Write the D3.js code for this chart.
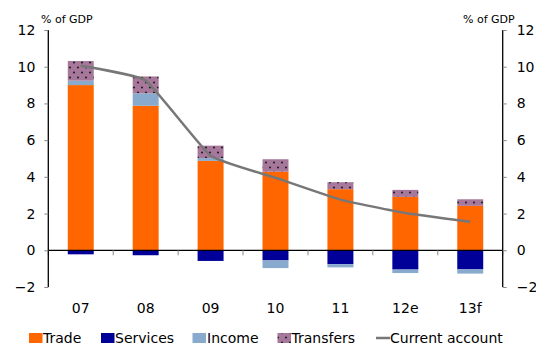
<!DOCTYPE html>
<html><head><meta charset="utf-8">
<script src="https://cdn.jsdelivr.net/npm/d3@7"></script>
<style>body{margin:0;background:#fff}svg{display:block;font-family:Verdana,"DejaVu Sans",sans-serif}</style>
</head><body><svg id="c" width="536" height="345"></svg>
<script>
const categories = ["07","08","09","10","11","12e","13f"];
const trade = [9.0, 7.87, 4.87, 4.28, 3.33, 2.91, 2.42];
const services = [-0.22, -0.27, -0.58, -0.55, -0.76, -1.05, -1.04];
const income = [0.24, 0.68, 0.15, -0.42, -0.17, -0.19, -0.23];
const transfers = [1.07, 0.92, 0.68, 0.68, 0.38, 0.38, 0.36];
const currentAccount = [10.05, 9.25, 5.15, 3.95, 2.76, 2.03, 1.55];
const yTicks = [-2, 0, 2, 4, 6, 8, 10, 12];

const keys = ["trade","services","income","transfers"];
const colors = {trade:"#ff6600", services:"#000099", income:"#88aacc", transfers:"url(#dots)"};
const labels = {trade:"Trade", services:"Services", income:"Income", transfers:"Transfers"};
const rows = categories.map((c,i)=>({cat:c, trade:trade[i], services:services[i], income:income[i], transfers:transfers[i]}));

const svg = d3.select("#c");
const L = 48.3, R = 502.7;
const x = d3.scaleBand().domain(categories).range([L, R]).paddingInner(0).paddingOuter(0);
const y = d3.scaleLinear().domain([-2, 12]).range([287, 30]);

const defs = svg.append("defs");
const pat = defs.append("pattern").attr("id","dots").attr("patternUnits","userSpaceOnUse")
  .attr("width",8).attr("height",10);
pat.append("rect").attr("width",8).attr("height",10).attr("fill","#a8789c");
pat.append("circle").attr("cx",2).attr("cy",2.5).attr("r",1.1).attr("fill","#222");
pat.append("circle").attr("cx",6).attr("cy",7.5).attr("r",1.1).attr("fill","#222");

const stack = d3.stack().keys(keys).offset(d3.stackOffsetDiverging)(rows);
const bw = x.bandwidth()*0.4;
svg.append("g").selectAll("g").data(stack).join("g")
  .attr("fill", d=>colors[d.key])
  .selectAll("rect").data(d=>d).join("rect")
  .attr("x", d=>x(d.data.cat) + (x.bandwidth()-bw)/2)
  .attr("width", bw)
  .attr("y", d=>y(Math.max(d[0],d[1])))
  .attr("height", d=>Math.abs(y(d[0])-y(d[1])));

// zero line
svg.append("line").attr("x1",L).attr("x2",R).attr("y1",y(0)).attr("y2",y(0)).attr("stroke","#000").attr("stroke-width",1.2);
// category ticks
svg.append("g").selectAll("line").data(d3.range(categories.length+1)).join("line")
  .attr("x1",i=>L+i*x.step()).attr("x2",i=>L+i*x.step())
  .attr("y1",y(0)).attr("y2",y(0)+5).attr("stroke","#888").attr("stroke-width",1);

// current account line
const line = d3.line().x((d,i)=>x(categories[i])+x.bandwidth()/2).y(d=>y(d)).curve(d3.curveCardinal.tension(0.65));
svg.append("path").datum(currentAccount).attr("d",line).attr("fill","none").attr("stroke","#777").attr("stroke-width",2.5);

// axes
const yl = d3.axisLeft(y).tickValues(yTicks).tickSize(4).tickPadding(9);
const gl = svg.append("g").attr("transform",`translate(${L},0)`).call(yl);
const yr = d3.axisRight(y).tickValues(yTicks).tickSize(4).tickPadding(10);
const gr = svg.append("g").attr("transform",`translate(${R},0)`).call(yr);
[gl,gr].forEach(g=>{
  g.select(".domain").attr("stroke","#000").attr("stroke-width",1.3).attr("d",`M0,${y(12)}V${y(-2)}`);
  g.selectAll(".tick line").attr("stroke","#888");
  g.selectAll(".tick text").attr("font-size",14).attr("fill","#000").attr("font-family","Verdana,'DejaVu Sans',sans-serif");
});

svg.append("text").attr("x",41).attr("y",23).attr("font-size",11).text("% of GDP");
svg.append("text").attr("x",463).attr("y",23).attr("font-size",11).text("% of GDP");

// category labels
svg.append("g").selectAll("text").data(categories).join("text")
  .attr("x",d=>x(d)+x.bandwidth()/2).attr("y",313).attr("text-anchor","middle").attr("font-size",14).text(d=>d);

// legend
const lg = svg.append("g");
const items = [
  {k:"trade", sx:29, tx:43},
  {k:"services", sx:101, tx:115},
  {k:"income", sx:192.5, tx:207},
  {k:"transfers", sx:277.5, tx:291.5}
];
items.forEach(it=>{
  lg.append("rect").attr("x",it.sx).attr("y",333).attr("width",13.5).attr("height",10).attr("fill",colors[it.k]);
  lg.append("text").attr("x",it.tx).attr("y",343).attr("font-size",14).text(labels[it.k]);
});
lg.append("line").attr("x1",376).attr("x2",390).attr("y1",338).attr("y2",338).attr("stroke","#777").attr("stroke-width",2.5);
lg.append("text").attr("x",390).attr("y",343).attr("font-size",14).text("Current account");
</script></body></html>
